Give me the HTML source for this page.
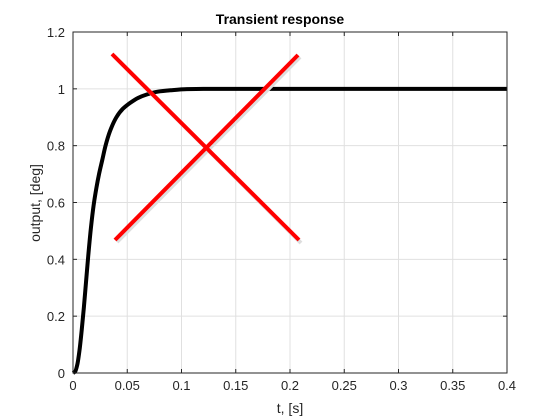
<!DOCTYPE html>
<html><head><meta charset="utf-8"><style>
body{margin:0;background:#fff}
svg{display:block;font-family:"Liberation Sans",sans-serif}
</style></head><body>
<svg id="chart" width="560" height="420">
<rect x="0" y="0" width="560" height="420" fill="#fff"/>
<rect x="73" y="32" width="434" height="341" fill="#fff"/>
<g id="grid"></g><g id="ticks"></g>
<g id="series"></g>
<rect x="73" y="32" width="434" height="341" fill="none" stroke="#262626" stroke-width="1"/>
<g>
<line x1="114" y1="56" x2="301" y2="243" stroke="#ddd" stroke-width="4"/>
<line x1="117" y1="242" x2="300" y2="57" stroke="#ddd" stroke-width="4"/>
<line x1="112" y1="54" x2="299" y2="240" stroke="#f00" stroke-width="4"/>
<line x1="115" y1="240" x2="298" y2="55" stroke="#f00" stroke-width="4"/>
</g>
<text x="280" y="24" text-anchor="middle" font-size="14" font-weight="bold" fill="#000">Transient response</text>
<text x="290" y="413" text-anchor="middle" font-size="14" fill="#262626">t, [s]</text>
<text transform="translate(40,203) rotate(-90)" text-anchor="middle" font-size="14" fill="#262626">output, [deg]</text>
</svg>
<script>
const tVals=[0,0.002,0.004,0.006,0.008,0.010,0.012,0.014,0.0165,0.019,0.0215,0.024,0.027,0.030,0.034,0.040,0.046,0.0525,0.060,0.068,0.078,0.09,0.105,0.12,0.2,0.4];
const yVals=[0,0.005,0.03,0.08,0.15,0.23,0.32,0.41,0.51,0.59,0.65,0.70,0.75,0.80,0.85,0.90,0.93,0.95,0.968,0.98,0.99,0.995,0.999,1,1,1];
const xTicks=[0,0.05,0.1,0.15,0.2,0.25,0.3,0.35,0.4];
const yTicks=[0,0.2,0.4,0.6,0.8,1,1.2];
const L=73,R=507,T=32,B=373,XMAX=0.4,YMAX=1.2;
const sx=v=>L+v/XMAX*(R-L), sy=v=>B-v/YMAX*(B-T);
const NS="http://www.w3.org/2000/svg";
const grid=document.getElementById('grid'),ticks=document.getElementById('ticks'),series=document.getElementById('series');
function mk(tag,attrs,parent){const e=document.createElementNS(NS,tag);for(const k in attrs)e.setAttribute(k,attrs[k]);parent.appendChild(e);return e;}
xTicks.forEach(v=>{
 const g=mk('line',{x1:sx(v),x2:sx(v),y1:T,y2:B,stroke:'#e0e0e0','stroke-width':1},grid);
 
 
 mk('line',{x1:sx(v),x2:sx(v),y1:B,y2:B-4,stroke:'#262626'},ticks);
 mk('line',{x1:sx(v),x2:sx(v),y1:T,y2:T+4,stroke:'#262626'},ticks);
 const t=mk('text',{x:sx(v),y:B+17,'text-anchor':'middle','font-size':13,fill:'#262626'},ticks);
 t.textContent=String(v);
 
 
});
yTicks.forEach(v=>{
 const g=mk('line',{x1:L,x2:R,y1:sy(v),y2:sy(v),stroke:'#e0e0e0','stroke-width':1},grid);
 
 
 mk('line',{x1:L,x2:L+4,y1:sy(v),y2:sy(v),stroke:'#262626'},ticks);
 mk('line',{x1:R,x2:R-4,y1:sy(v),y2:sy(v),stroke:'#262626'},ticks);
 const t=mk('text',{x:L-8,y:sy(v)+5,'text-anchor':'end','font-size':13,fill:'#262626'},ticks);
 t.textContent=String(v);
 
 
});
// monotone cubic (Fritsch-Carlson) in data space
const n=tVals.length, dk=[], m=[];
for(let i=0;i<n-1;i++) dk.push((yVals[i+1]-yVals[i])/(tVals[i+1]-tVals[i]));
m[0]=dk[0]; m[n-1]=dk[n-2];
for(let i=1;i<n-1;i++){ if(dk[i-1]*dk[i]<=0) m[i]=0; else { const h0=tVals[i]-tVals[i-1],h1=tVals[i+1]-tVals[i]; const w1=2*h1+h0,w2=h1+2*h0; m[i]=(w1+w2)/(w1/dk[i-1]+w2/dk[i]); } }
let d='M'+sx(tVals[0])+','+sy(yVals[0]);
for(let i=0;i<n-1;i++){
 const h=tVals[i+1]-tVals[i];
 const c1t=tVals[i]+h/3,c1y=yVals[i]+m[i]*h/3,c2t=tVals[i+1]-h/3,c2y=yVals[i+1]-m[i+1]*h/3;
 d+=' C'+sx(c1t)+','+sy(c1y)+' '+sx(c2t)+','+sy(c2y)+' '+sx(tVals[i+1])+','+sy(yVals[i+1]);
}
const line=mk('path',{d:d,fill:'none',stroke:'#000','stroke-width':4,'stroke-linejoin':'round'},series);


</script>
</body></html>
